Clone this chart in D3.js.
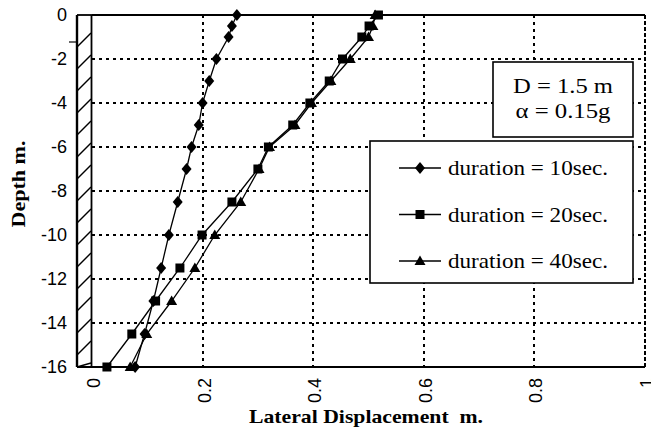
<!DOCTYPE html>
<html>
<head>
<meta charset="utf-8">
<script src="https://cdn.jsdelivr.net/npm/d3@7"></script>
<style>
  body { margin: 0; background: #fff; }
  svg { display: block; }
</style>
</head>
<body>
<svg id="chart" width="651" height="433"></svg>
<script>
// Depth of each reading (m) and the lateral displacement (m) for each shaking duration
const depths  = [0, -0.5, -1, -2, -3, -4, -5, -6, -7, -8.5, -10, -11.5, -13, -14.5, -16];
const disp10s = [0.262, 0.253, 0.247, 0.225, 0.212, 0.200, 0.193, 0.180, 0.171, 0.155, 0.139, 0.125, 0.111, 0.095, 0.078];
const disp20s = [0.518, 0.501, 0.488, 0.453, 0.429, 0.394, 0.363, 0.319, 0.300, 0.253, 0.199, 0.159, 0.115, 0.072, 0.027];
const disp40s = [0.512, 0.508, 0.500, 0.467, 0.432, 0.397, 0.367, 0.321, 0.302, 0.269, 0.222, 0.186, 0.144, 0.099, 0.069];
const seriesLabels = ["duration = 10sec.", "duration = 20sec.", "duration = 40sec."];
const xTickValues = [0, 0.2, 0.4, 0.6, 0.8, 1];
const yTickValues = [0, -2, -4, -6, -8, -10, -12, -14, -16];
const noteLines = ["D = 1.5 m", "\u03B1 = 0.15g"];
const xTitle = "Lateral Displacement  m.";
const yTitle = "Depth m.";

const SANS = "'Liberation Sans', Arial, sans-serif";
const SERIF = "'Liberation Serif', 'Times New Roman', serif";

const svg = d3.select("#chart");
const x = d3.scaleLinear().domain([0, 1]).range([92, 645]);
const y = d3.scaleLinear().domain([0, -16]).range([15, 367]);

// marker shapes (centred on 0,0)
const markers = [
  "M0,-6L5,0L0,6L-5,0Z",          // diamond
  "M-4.5,-4.5H4.5V4.5H-4.5Z",     // square
  "M0,-5.5L5.5,4L-5.5,4Z"         // triangle
];

// dotted grid
const grid = svg.append("g").attr("stroke", "#000").attr("stroke-width", 2)
  .attr("stroke-dasharray", "3,4").attr("fill", "none").attr("shape-rendering", "crispEdges");
grid.selectAll("line.h").data(yTickValues.filter(v => v !== 0 && v !== -16)).join("line")
  .attr("class", "h").attr("x1", x(0)).attr("x2", x(1))
  .attr("y1", d => Math.round(y(d))).attr("y2", d => Math.round(y(d)));
grid.selectAll("line.v").data(xTickValues.filter(v => v !== 0 && v !== 1)).join("line")
  .attr("class", "v").attr("y1", y(0)).attr("y2", y(-16))
  .attr("x1", d => Math.round(x(d))).attr("x2", d => Math.round(x(d)));

// plot frame
svg.append("line").attr("x1", x(0)).attr("x2", x(1)).attr("y1", y(0)).attr("y2", y(0))
  .attr("stroke", "#000").attr("stroke-width", 2);
svg.append("line").attr("x1", 77).attr("x2", x(1)).attr("y1", y(-16)).attr("y2", y(-16))
  .attr("stroke", "#000").attr("stroke-width", 2);
svg.append("line").attr("x1", x(1)).attr("x2", x(1)).attr("y1", y(0)).attr("y2", y(-16))
  .attr("stroke", "#000").attr("stroke-width", 2).attr("stroke-dasharray", "4,2")
  .attr("shape-rendering", "crispEdges");

// retaining wall with hatching
const wall = svg.append("g").attr("stroke", "#000").attr("fill", "none");
wall.append("line").attr("x1", 77).attr("x2", 77).attr("y1", y(0)).attr("y2", y(-16)).attr("stroke-width", 2.4);
wall.append("line").attr("x1", x(0) - 0.5).attr("x2", x(0) - 0.5).attr("y1", y(0)).attr("y2", y(-16)).attr("stroke-width", 1.8);
wall.append("line").attr("x1", 77).attr("x2", x(0)).attr("y1", y(0)).attr("y2", y(0)).attr("stroke-width", 1.8);
wall.selectAll("line.hatch").data(d3.range(1, 17)).join("line").attr("class", "hatch")
  .attr("stroke-width", 1.4)
  .attr("x1", 77).attr("x2", x(0) - 1)
  .attr("y1", d => Math.min(y(-16), y(-d) + 10)).attr("y2", d => y(-d) - 4);
svg.append("line").attr("x1", 69).attr("x2", 77).attr("y1", 42).attr("y2", 42).attr("stroke", "#000").attr("stroke-width", 1.2);

// axes
const yAxis = svg.append("g").attr("transform", "translate(77,0)")
  .call(d3.axisLeft(y).tickValues(yTickValues).tickSize(0).tickPadding(10).tickFormat(d3.format("d")));
yAxis.select(".domain").remove();
yAxis.selectAll("text").attr("font-family", SANS).attr("font-size", 18).attr("fill", "#000")
  .text(d => d === 0 ? "0" : "-" + Math.abs(d));

const xAxis = svg.append("g").attr("transform", `translate(0,${y(-16)})`)
  .call(d3.axisBottom(x).tickValues(xTickValues).tickSize(0).tickFormat(d => String(d)));
xAxis.select(".domain").remove();
xAxis.selectAll("text").attr("font-family", SANS).attr("font-size", 18).attr("fill", "#000")
  .attr("transform", "rotate(-90)").attr("x", -11).attr("y", 0).attr("dy", "0.42em")
  .style("text-anchor", "end");

// axis titles
svg.append("text").attr("x", 366).attr("y", 423).attr("text-anchor", "middle")
  .attr("font-family", SERIF).attr("font-weight", "bold").attr("font-size", 19)
  .attr("textLength", 234).attr("lengthAdjust", "spacingAndGlyphs")
  .attr("xml:space", "preserve").style("white-space", "pre").text(xTitle);
svg.append("text").attr("transform", "translate(25,184) rotate(-90)").attr("text-anchor", "middle")
  .attr("font-family", SERIF).attr("font-weight", "bold").attr("font-size", 19)
  .attr("textLength", 87).attr("lengthAdjust", "spacingAndGlyphs").text(yTitle);

// series lines and markers
const seriesData = [disp10s, disp20s, disp40s].map(vals => depths.map((d, i) => ({ depth: d, disp: vals[i] })));
const line = d3.line().x(d => x(d.disp)).y(d => y(d.depth));
seriesData.forEach((pts, s) => {
  const g = svg.append("g");
  g.append("path").datum(pts).attr("d", line).attr("fill", "none").attr("stroke", "#000").attr("stroke-width", 1.3);
  g.selectAll("path.m").data(pts).join("path").attr("class", "m")
    .attr("d", markers[s]).attr("fill", "#000")
    .attr("transform", d => `translate(${x(d.disp)},${y(d.depth)})`);
});

// note box
svg.append("rect").attr("x", 493).attr("y", 62).attr("width", 140).attr("height", 75)
  .attr("fill", "#fff").attr("stroke", "#000").attr("stroke-width", 1.6);
const noteWidths = [100, 95];
svg.selectAll("text.note").data(noteLines).join("text").attr("class", "note")
  .attr("x", 563).attr("y", (d, i) => 93 + i * 25).attr("text-anchor", "middle")
  .attr("font-family", SERIF).attr("font-size", 21).attr("fill", "#000")
  .attr("textLength", (d, i) => noteWidths[i]).attr("lengthAdjust", "spacingAndGlyphs")
  .text(d => d);

// legend
svg.append("rect").attr("x", 370).attr("y", 141).attr("width", 263).attr("height", 142)
  .attr("fill", "#fff").attr("stroke", "#000").attr("stroke-width", 1.6);
const leg = svg.selectAll("g.leg").data(seriesLabels).join("g").attr("class", "leg")
  .attr("transform", (d, i) => `translate(0,${168 + i * 46.5})`);
leg.append("line").attr("x1", 399).attr("x2", 441).attr("stroke", "#000").attr("stroke-width", 1.3);
leg.append("path").attr("d", (d, i) => markers[i]).attr("transform", "translate(420,0)").attr("fill", "#000");
leg.append("text").attr("x", 448).attr("y", 7).attr("font-family", SERIF).attr("font-size", 21)
  .attr("textLength", 160).attr("lengthAdjust", "spacingAndGlyphs")
  .attr("fill", "#000").text(d => d);
</script>
</body>
</html>
